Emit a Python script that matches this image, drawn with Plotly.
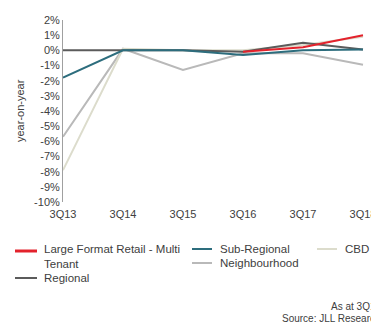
import plotly.graph_objects as go

quarters = ["3Q13", "3Q14", "3Q15", "3Q16", "3Q17", "3Q18"]
large_format = [None, None, None, -0.1, 0.2, 1.0]
regional = [0.0, 0.0, 0.0, -0.1, 0.5, 0.05]
sub_regional = [-1.8, 0.0, 0.0, -0.3, 0.0, 0.05]
neighbourhood = [-5.7, 0.1, -1.3, -0.2, -0.2, -0.95]
cbd = [-7.9, 0.1, 0.0, 0.0, 0.35, 0.9]
y_ticks = list(range(-10, 3))

W, H = 371, 325
L, T, B = 63, 20, 202  # plot area in pixels
R = W
PW, PH = R - L, B - T

def px(x):
    return (x - L) / PW

def py(y):
    return (B - y) / PH

series = [
    ("Neighbourhood", neighbourhood, "#b9b9b9"),
    ("CBD", cbd, "#dcdccc"),
    ("Regional", regional, "#5b5b5b"),
    ("Sub-Regional", sub_regional, "#2d6d7d"),
    ("Large Format Retail - Multi Tenant", large_format, "#e3222c"),
]

fig = go.Figure()
for name, vals, col in series:
    fig.add_trace(go.Scatter(x=quarters, y=vals, mode="lines", name=name,
                             line=dict(color=col, width=2), showlegend=False))

font = "Liberation Sans, Arial, sans-serif"
fig.update_layout(
    width=W, height=H,
    margin=dict(l=L, r=0, t=T, b=H - B),
    paper_bgcolor="white", plot_bgcolor="white",
    font=dict(family=font, size=11, color="#404040"),
    xaxis=dict(type="category", range=[0, (R - L) / 60], showgrid=False,
               zeroline=False, showline=False, ticks="", automargin=False,
               ticklabelstandoff=4,
               tickfont=dict(size=11, color="#404040")),
    yaxis=dict(range=[-10, 2], tickvals=y_ticks, automargin=False,
               ticktext=[f"{v}%" for v in y_ticks], showgrid=False,
               zeroline=False, showline=True, linecolor="#a0a0a0", linewidth=1,
               ticks="", tickfont=dict(size=11, color="#404040")),
)

# y-axis title
fig.add_annotation(x=px(20), y=py(111), xref="paper", yref="paper",
                   text="year-on-year", textangle=-90, showarrow=False,
                   font=dict(size=11, color="#404040"), xanchor="center", yanchor="middle")

# manual legend
legend_items = [
    ("Large Format Retail - Multi<br>Tenant", "#e3222c", 15, 37, 251, 42, 256, 3),
    ("Regional", "#5b5b5b", 15, 37, 278, 42, 278, 2),
    ("Sub-Regional", "#2d6d7d", 192, 212, 249, 218, 249, 2),
    ("Neighbourhood", "#b9b9b9", 192, 212, 263, 218, 263, 2),
    ("CBD", "#dcdccc", 317, 337, 249, 343, 249, 2),
]
for text, col, x0, x1, ly, tx, ty, lw in legend_items:
    fig.add_shape(type="line", xref="paper", yref="paper",
                  x0=px(x0), x1=px(x1), y0=py(ly), y1=py(ly),
                  line=dict(color=col, width=lw))
    fig.add_annotation(x=px(tx), y=py(ty), xref="paper", yref="paper",
                       text=text, showarrow=False, xanchor="left", yanchor="middle",
                       align="left", font=dict(size=11.5, color="#404040"))

# footnotes (cut off at the right edge, as in the source image)
fig.add_annotation(x=px(383), y=py(306), xref="paper", yref="paper",
                   text="As at 3Q18", showarrow=False, xanchor="right", yanchor="middle",
                   font=dict(size=10, color="#404040"))
fig.add_annotation(x=px(383), y=py(318), xref="paper", yref="paper",
                   text="Source: JLL Research", showarrow=False, xanchor="right", yanchor="middle",
                   font=dict(size=10, color="#404040"))

fig.write_html("out.html")
